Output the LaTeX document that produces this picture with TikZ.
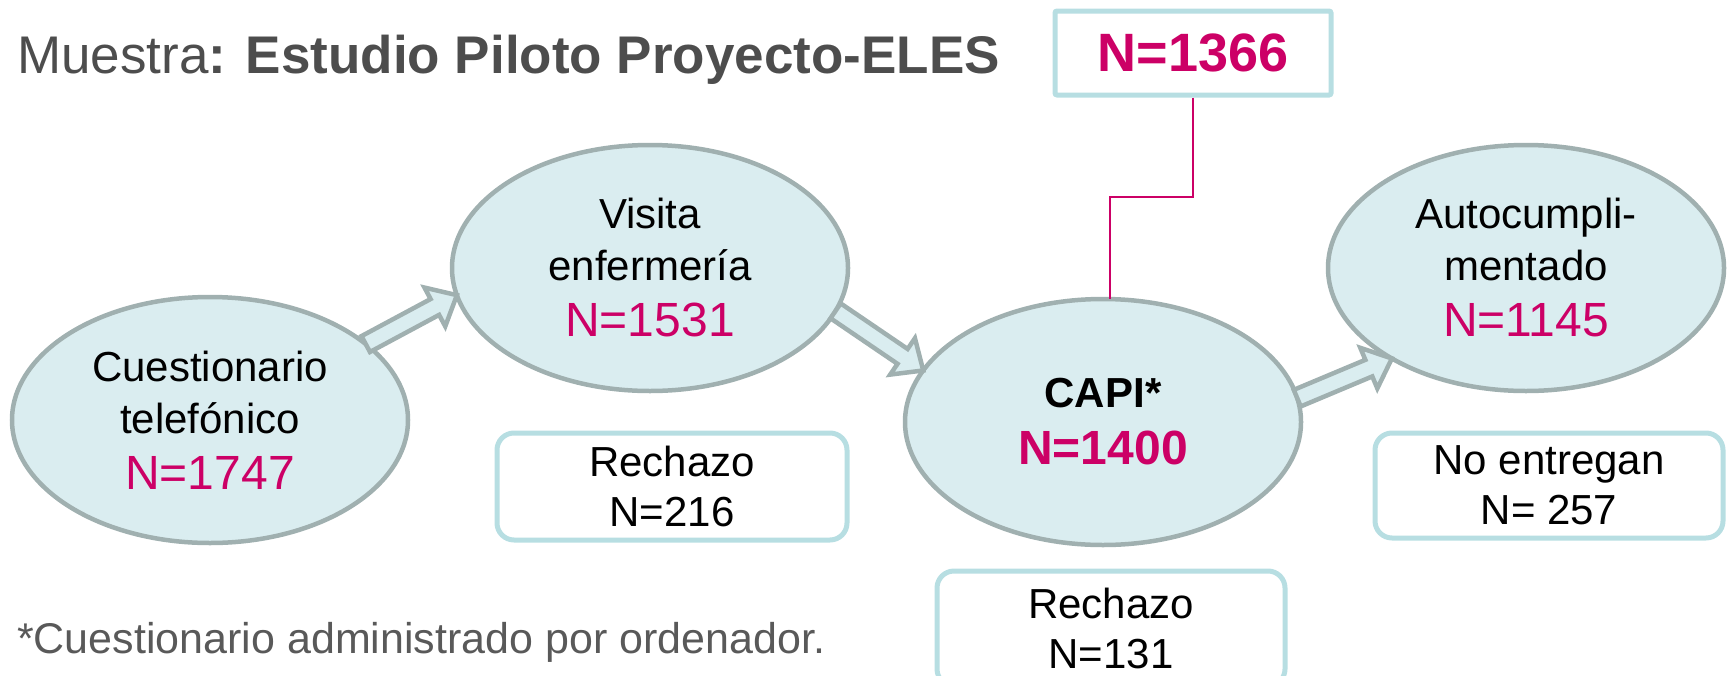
\documentclass[tikz,border=0pt]{standalone}
\usepackage{fontspec}
\setmainfont{Liberation Sans}
\usetikzlibrary{calc,shapes.geometric}
\definecolor{efill}{RGB}{218,237,240}
\definecolor{eline}{RGB}{160,176,176}
\definecolor{bline}{RGB}{183,222,226}
\definecolor{pinkn}{RGB}{204,0,102}
\definecolor{titlegray}{RGB}{77,77,77}
\definecolor{footgray}{RGB}{89,89,89}
\tikzset{
  ell/.style={ellipse, draw=eline, fill=efill, line width=4.5pt,
    minimum width=396pt, minimum height=246pt, inner sep=0pt, outer sep=0pt,
    align=center, font=\fontsize{42}{52}\selectfont},
  rbox/.style={draw=bline, fill=white, line width=5pt, rounded corners=17pt,
    minimum width=350pt, minimum height=107pt, inner sep=0pt,
    align=center, font=\fontsize{42}{50}\selectfont},
  nbox/.style={draw=bline, fill=white, line width=5pt, rounded corners=2pt,
    minimum width=276pt, minimum height=84pt, inner sep=0pt,
    text=pinkn, font=\bfseries\fontsize{54}{60}\selectfont},
  barrow/.style={draw=eline, fill=efill, line width=4.5pt, line join=miter},
  pinkline/.style={draw=pinkn, line width=2pt}
}
\newcommand{\blockarr}[2]{%
  \coordinate (hb) at ($(#2)!25pt!(#1)$);
  \filldraw[barrow] ($(#1)!9pt!90:(#2)$) -- ($(hb)!9pt!90:(#2)$)
    -- ($(hb)!22pt!90:(#2)$) -- (#2) -- ($(hb)!22pt!-90:(#2)$)
    -- ($(hb)!9pt!-90:(#2)$) -- ($(#1)!9pt!-90:(#2)$) -- cycle;
}
\begin{document}
\begin{tikzpicture}[x=1pt,y=-1pt]
\useasboundingbox (0,0) rectangle (1729,675);
\clip (0,0) rectangle (1729,675);

% title
\node[anchor=base west, inner sep=0pt, text=titlegray,
  font=\fontsize{53}{60}\selectfont] (title) at (17,73)
  {Muestra\textbf{: Estudio Piloto Proyecto-ELES}};

% ellipses
\node[ell] (e1) at (210,420) {Cuestionario\\telef\'onico\\[4pt]{\color{pinkn}\fontsize{48}{54}\selectfont N=1747}};
\node[ell] (e2) at (650,268) {Visita\\enfermer\'ia\\[4pt]{\color{pinkn}\fontsize{48}{54}\selectfont N=1531}};
\node[ell] (e3) at (1103,422) {\textbf{CAPI*}\\[5pt]{\color{pinkn}\bfseries\fontsize{48}{54}\selectfont N=1400}};
\node[ell] (e4) at (1526,268) {Autocumpli-\\mentado\\[4pt]{\color{pinkn}\fontsize{48}{54}\selectfont N=1145}};

% boxes
\node[rbox] (r216) at (672,486.5) {Rechazo\\N=216};
\node[rbox, minimum width=348pt, minimum height=105pt] (r257) at (1549,485.5) {No entregan\\N= 257};
\node[rbox, minimum width=348pt, minimum height=115pt] (r131) at (1111,628.5) {Rechazo\\N=131};

\node[nbox] (n1366) at (1193,53) {N=1366};

% pink connector
\coordinate (bend) at (1110,197);
\draw[pinkline] (n1366.south) |- (bend) -- (bend |- e3.north);

% block arrows
\blockarr{e1.26}{e2.188}
\blockarr{e2.-13}{e3.164}
\blockarr{e3.7}{e4.214}

% footnote
\node[anchor=base west, inner sep=0pt, text=footgray,
  font=\fontsize{43}{50}\selectfont] (foot) at (17,653)
  {*Cuestionario administrado por ordenador.};
\end{tikzpicture}
\end{document}
